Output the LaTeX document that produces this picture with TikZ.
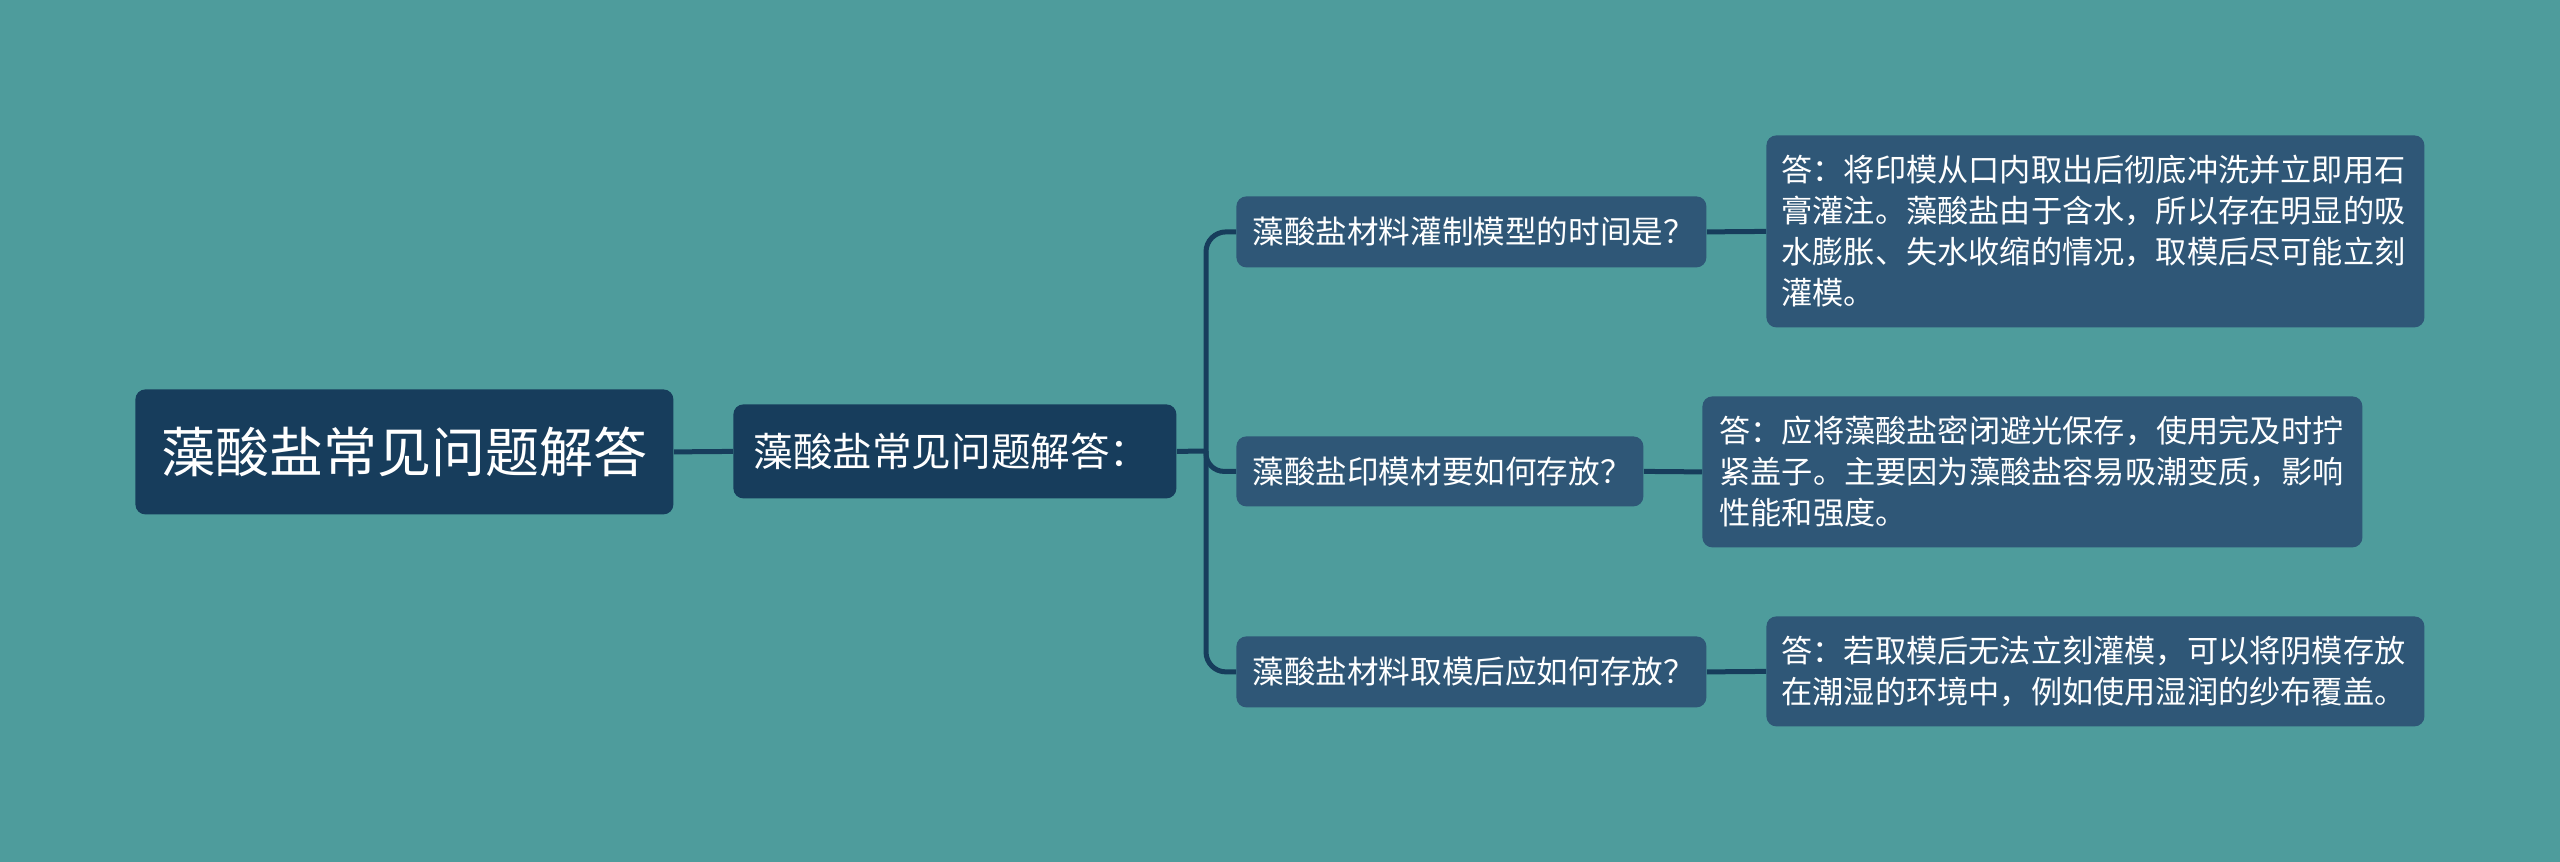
\documentclass[tikz,border=0pt]{standalone}
\usepackage{fontspec}
\setmainfont{Noto Sans CJK SC}
\definecolor{bgc}{HTML}{4E9C9C}
\definecolor{darkbox}{HTML}{173D5C}
\definecolor{midbox}{HTML}{2F5777}
\definecolor{linec}{HTML}{173D5C}
\begin{document}
\begin{tikzpicture}[x=0.5pt,y=-0.5pt,
  basebox/.style={anchor=north west, rounded corners=5pt, text=white, inner ysep=0pt},
  rootbox/.style={basebox, fill=darkbox, minimum width=269pt, minimum height=62.5pt, inner xsep=0pt, align=center, font=\fontsize{27pt}{32pt}\selectfont},
  mainbox/.style={basebox, fill=darkbox, minimum height=47pt, inner xsep=10pt, text width=201.5pt, align=left, font=\fontsize{19.8pt}{24pt}\selectfont},
  qbox/.style={basebox, fill=midbox, inner xsep=8pt, align=left, font=\fontsize{15.8pt}{19pt}\selectfont},
  abox/.style={basebox, fill=midbox, inner xsep=7.5pt, align=left, font=\fontsize{15.6pt}{20.5pt}\selectfont},
  conn/.style={draw=linec, line width=2.5pt}
]
\fill[bgc] (0,0) rectangle (2560,862);
\useasboundingbox (0,0) rectangle (2560,862);

\node[rootbox] (root) at (135,389) {藻酸盐常见问题解答};
\node[mainbox] (main) at (733,404) {藻酸盐常见问题解答：};

\node[qbox, minimum height=35.5pt, text width=219pt] (q1) at (1236,196) {藻酸盐材料灌制模型的时间是？};
\node[qbox, minimum height=35pt, text width=187.5pt] (q2) at (1236,436) {藻酸盐印模材要如何存放？};
\node[qbox, minimum height=35.5pt, text width=219pt] (q3) at (1236,636) {藻酸盐材料取模后应如何存放？};

\node[abox, minimum height=96pt, text width=314pt] (a1) at (1766,135) {答：将印模从口内取出后彻底冲洗并立即用石\\膏灌注。藻酸盐由于含水，所以存在明显的吸\\水膨胀、失水收缩的情况，取模后尽可能立刻\\灌模。};
\node[abox, minimum height=75.5pt, text width=313pt, inner xsep=8.5pt] (a2) at (1702,396) {答：应将藻酸盐密闭避光保存，使用完及时拧\\紧盖子。主要因为藻酸盐容易吸潮变质，影响\\性能和强度。};
\node[abox, minimum height=55pt, text width=314pt] (a3) at (1766,616) {答：若取模后无法立刻灌模，可以将阴模存放\\在潮湿的环境中，例如使用湿润的纱布覆盖。};

\coordinate (trunk) at (1206,451);

\draw[conn] (root.east) -- (main.west);
\draw[conn] (main.east) -- (trunk);
\draw[conn, rounded corners=10pt] (q1.west) -| (trunk) |- (q3.west);
\draw[conn, rounded corners=9pt] (trunk) |- (q2.west);

\draw[conn] (q1.east) -- (a1.west);
\draw[conn] (q2.east) -- (a2.west);
\draw[conn] (q3.east) -- (a3.west);
\end{tikzpicture}
\end{document}
